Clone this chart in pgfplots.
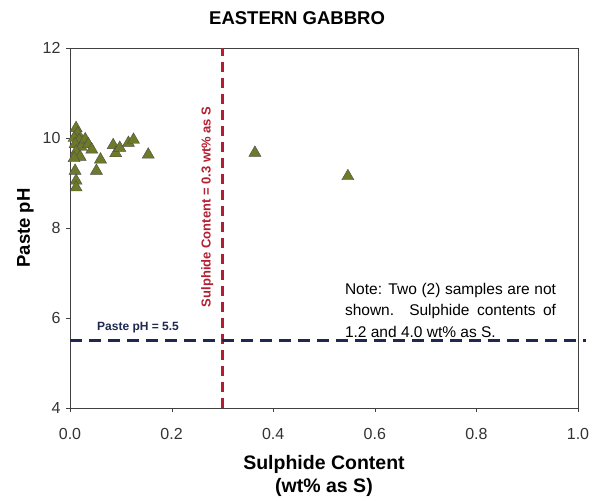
\documentclass[border=0pt]{standalone}
\usepackage{pgfplots}
\pgfplotsset{compat=1.18}
\usepackage{fontspec}
\setmainfont{Liberation Sans}
\definecolor{olivemark}{RGB}{110,122,40}
\definecolor{redline}{RGB}{180,30,50}
\definecolor{navyline}{RGB}{30,40,80}
\pgfplotstableread{
x y
0.012 10.22
0.015 10.10
0.008 10.00
0.018 9.95
0.010 9.86
0.022 9.80
0.012 9.70
0.020 9.58
0.008 9.55
0.010 9.27
0.012 9.05
0.012 8.90
0.030 9.97
0.036 9.86
0.043 9.74
0.060 9.52
0.052 9.27
0.085 9.84
0.090 9.66
0.098 9.78
0.115 9.89
0.125 9.96
0.154 9.63
0.364 9.67
0.547 9.15
}\samples
\begin{document}
\begin{tikzpicture}[x=1pt,y=1pt]
\useasboundingbox (-70,-92) rectangle (523,408);
\begin{axis}[
  at={(0,0)}, anchor=south west,
  scale only axis, width=508pt, height=360pt,
  xmin=0, xmax=1, ymin=4, ymax=12,
  xtick={0,0.2,0.4,0.6,0.8,1.0}, ytick={4,6,8,10,12},
  xticklabel style={/pgf/number format/fixed, /pgf/number format/fixed zerofill, /pgf/number format/precision=1, yshift=-13pt},
  /pgf/number format/assume math mode=true,
  tick label style={font=\fontsize{16}{18}\selectfont, text=black!80},
  yticklabel style={xshift=-2pt},
  tick align=outside, major tick length=4pt,
  xtick pos=bottom, ytick pos=left,
  axis line style={draw=black!75, line width=0.9pt},
  tick style={draw=black!75},
  clip=false,
  xlabel={Sulphide Content\\(wt\% as S)},
  xlabel style={font=\bfseries\fontsize{19.5}{23}\selectfont, align=center, yshift=-9pt},
  ylabel={Paste pH},
  ylabel style={font=\bfseries\fontsize{18.5}{20}\selectfont, yshift=2pt},
]
\addplot[only marks, mark=triangle*, mark size=7pt,
  mark options={fill=olivemark, draw=black!70, line width=0.4pt}]
  table[x=x,y=y] {\samples};
\draw[redline, line width=2.4pt, dash pattern=on 10pt off 6pt] (axis cs:0.3,4) -- (axis cs:0.3,12);
\draw[navyline, line width=2.2pt, dash pattern=on 12pt off 7pt] (axis cs:0,5.5) -- (axis cs:1.015,5.5);
\node[rotate=90, text=redline, font=\bfseries\fontsize{13}{15}\selectfont] at (axis cs:0.27,8.47) {Sulphide Content = 0.3 wt\% as S};
\node[text=navyline, font=\bfseries\fontsize{12}{14}\selectfont] at (axis cs:0.134,5.78) {Paste pH = 5.5};
\node[anchor=north west, inner sep=0pt, align=left, font=\fontsize{15.5}{21.5}\selectfont] at (axis cs:0.541,6.78)
  {\makebox[211pt][s]{Note: Two (2) samples are not}\\
   \makebox[211pt][s]{shown.  Sulphide contents of}\\
   1.2 and 4.0 wt\% as S.};
\node[font=\bfseries\fontsize{18.5}{20}\selectfont] at (rel axis cs:0.447,1.083) {EASTERN GABBRO};
\end{axis}
\end{tikzpicture}
\end{document}
